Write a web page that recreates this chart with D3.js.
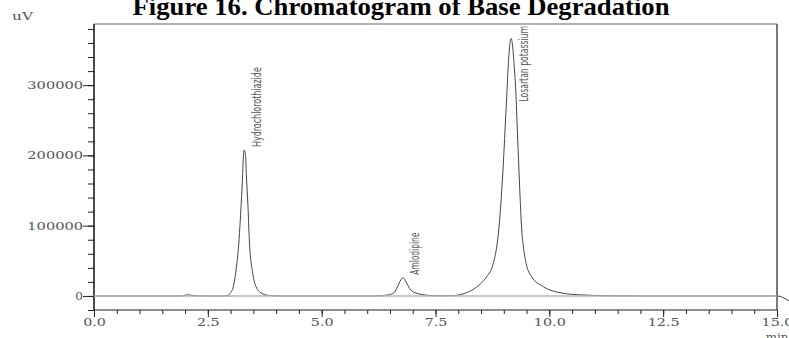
<!DOCTYPE html>
<html>
<head>
<meta charset="utf-8">
<script src="https://cdnjs.cloudflare.com/ajax/libs/d3/7.8.5/d3.min.js"></script>
<style>
  html, body { margin: 0; padding: 0; background: #fff; }
  svg { display: block; }
  .axis text { font-family: "DejaVu Serif", serif; font-size: 10.5px; fill: #555; }
  .peak-label { font-family: "Liberation Sans Narrow", "DejaVu Sans Condensed", sans-serif; font-size: 11.5px; fill: #555; }
</style>
</head>
<body>
<div id="chart"></div>
<script>
// retention time (min) and detector response (uV)
const times = [0, 1.90, 1.97, 2.05, 2.15, 2.25, 2.40,
  2.85, 2.94, 2.99, 3.06, 3.11, 3.185, 3.229, 3.266, 3.28, 3.30, 3.33, 3.345, 3.382, 3.411, 3.486, 3.558, 3.683, 3.83, 4.10,
  6.20, 6.35, 6.46, 6.57, 6.63, 6.70, 6.78, 6.87, 6.955, 7.09, 7.25, 7.45, 7.70,
  7.90, 8.05, 8.20, 8.40, 8.50, 8.625, 8.77, 8.845, 8.889, 8.946, 8.99, 9.027, 9.064, 9.10, 9.16,
  9.225, 9.269, 9.297, 9.327, 9.357, 9.394, 9.43, 9.49, 9.61, 9.87, 10.31, 10.70, 11.30, 12.0,
  14.90, 15.0, 15.26];
const signal = [0, 0, 600, 1600, 900, 200, 0,
  0, 500, 3800, 13200, 32300, 79700, 127000, 174500, 198000, 207700, 198000, 174500, 127000, 79700, 32300, 13200, 3800, 800, 0,
  0, 500, 1500, 3800, 8500, 18000, 26000, 18000, 8500, 3800, 1500, 400, 200,
  500, 2000, 5000, 12500, 18000, 27500, 46500, 70100, 93900, 141300, 188800, 236000, 283500, 331000, 366500,
  331000, 283500, 236000, 188800, 141300, 93900, 70100, 46500, 27500, 13200, 3800, 1500, 300, 0,
  0, 0, -7000];

// identified peaks
const peakNames = ["Hydrochlorothiazide", "Amlodipine", "Losartan potassium"];
const peakTimes = [3.30, 6.78, 9.16];
const peakHeights = [207700, 26000, 366500];

// ticks
const xTickValues = [0, 2.5, 5, 7.5, 10, 12.5, 15];
const xTickLabels = ["0.0", "2.5", "5.0", "7.5", "10.0", "12.5", "15.0"];
const yTickValues = [0, 100000, 200000, 300000];
const yTickLabels = ["0", "100000", "200000", "300000"];

const W = 789, H = 338;
const plot = {left: 94, right: 777, top: 24, bottom: 310};

const svg = d3.select('#chart').append('svg')
  .attr('width', W)
  .attr('height', H)
  .attr('viewBox', `0 0 ${W} ${H}`);

const x = d3.scaleLinear().domain([0, 15]).range([plot.left, plot.right]);
const y = d3.scaleLinear().domain([-20000, 387000]).range([plot.bottom, plot.top]);

// title, its top is cut in the source picture too
svg.append('text')
  .attr('x', 401)
  .attr('y', 15)
  .attr('text-anchor', 'middle')
  .style('font-family', '"Liberation Serif", "Times New Roman", serif')
  .style('font-weight', 'bold')
  .style('font-size', '25px')
  .attr('textLength', 537)
  .attr('lengthAdjust', 'spacingAndGlyphs')
  .text('Figure 16. Chromatogram of Base Degradation');

// the labels in the picture are wide, stretch them
function stretch(sel, perChar, trim) {
  sel.attr('textLength', function() { return this.textContent.length * perChar - trim; })
    .attr('lengthAdjust', 'spacingAndGlyphs');
}

// y axis
const yMinor = svg.append('g')
  .attr('class', 'axis')
  .attr('transform', `translate(${plot.left},0)`)
  .call(d3.axisLeft(y).tickValues(d3.range(-20000, 387000, 20000)).tickSize(6).tickFormat(''));
yMinor.select('.domain').remove();

const yAxis = svg.append('g')
  .attr('class', 'axis')
  .attr('transform', `translate(${plot.left},0)`)
  .call(d3.axisLeft(y).tickValues(yTickValues).tickSize(11).tickPadding(0)
    .tickFormat((d, i) => yTickLabels[i]));
yAxis.select('.domain').remove();
yAxis.selectAll('text').call(stretch, 9.6, 1.9);

// x axis
const xMinor = svg.append('g')
  .attr('class', 'axis')
  .attr('transform', `translate(0,${plot.bottom})`)
  .call(d3.axisBottom(x).tickValues(d3.range(0, 15.01, 0.5)).tickSize(4).tickFormat(''));
xMinor.select('.domain').remove();

const xAxis = svg.append('g')
  .attr('class', 'axis')
  .attr('transform', `translate(0,${plot.bottom})`)
  .call(d3.axisBottom(x).tickValues(xTickValues).tickSize(7).tickPadding(2)
    .tickFormat((d, i) => xTickLabels[i]));
xAxis.select('.domain').remove();
xAxis.selectAll('text').call(stretch, 9.3, 5.2);

svg.selectAll('.axis line').attr('stroke', '#222');

// frame
svg.append('line')
  .attr('x1', plot.left).attr('x2', plot.right)
  .attr('y1', plot.top).attr('y2', plot.top)
  .attr('stroke', '#999').attr('stroke-width', 1.5);
svg.append('line')
  .attr('x1', plot.left).attr('x2', plot.left)
  .attr('y1', plot.top).attr('y2', plot.bottom)
  .attr('stroke', '#111').attr('stroke-width', 1.5);
svg.append('line')
  .attr('x1', plot.right).attr('x2', plot.right)
  .attr('y1', plot.top).attr('y2', plot.bottom)
  .attr('stroke', '#222').attr('stroke-width', 1.2);
svg.append('line')
  .attr('x1', plot.left).attr('x2', plot.right)
  .attr('y1', plot.bottom).attr('y2', plot.bottom)
  .attr('stroke', '#222').attr('stroke-width', 1.2);

// axis units
svg.append('text')
  .attr('x', 12).attr('y', 20)
  .style('font-family', '"DejaVu Serif", serif')
  .style('font-size', '10.5px')
  .style('fill', '#555')
  .text('uV')
  .call(stretch, 10.5, 0);
svg.append('text')
  .attr('x', plot.right).attr('y', 341)
  .attr('text-anchor', 'middle')
  .style('font-family', '"DejaVu Serif", serif')
  .style('font-size', '10.5px')
  .style('fill', '#555')
  .text('min')
  .call(stretch, 7.5, 0);

// trace
const pts = times.map((t, i) => [t, signal[i]]);
const line = d3.line()
  .x(d => x(d[0]))
  .y(d => y(d[1]))
  .curve(d3.curveMonotoneX);

svg.append('path')
  .datum(pts)
  .attr('d', line)
  .attr('fill', 'none')
  .attr('stroke', '#444')
  .attr('stroke-width', 1);

// zero baseline, drawn over the flat parts of the trace
svg.append('line')
  .attr('x1', x(0)).attr('x2', x(15))
  .attr('y1', y(0)).attr('y2', y(0))
  .attr('stroke', '#b4b4b4').attr('stroke-width', 1.4);

// peak names, rotated, next to the apex
peakNames.forEach((name, i) => {
  const len = name.length * 4.2;
  const yb = Math.max(y(peakHeights[i]) - 3, plot.top + 2 + len);
  svg.append('text')
    .attr('class', 'peak-label')
    .attr('transform', `translate(${x(peakTimes[i]) + 16.5},${yb}) rotate(-90)`)
    .attr('textLength', len)
    .attr('lengthAdjust', 'spacingAndGlyphs')
    .text(name);
});
</script>
</body>
</html>
